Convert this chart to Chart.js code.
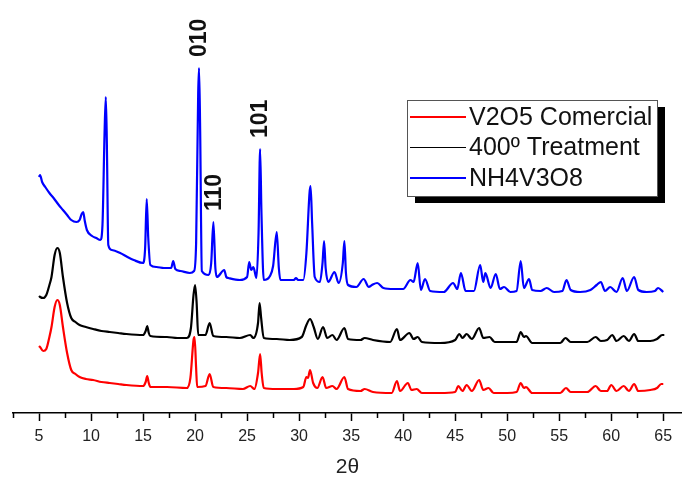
<!DOCTYPE html>
<html>
<head>
<meta charset="utf-8">
<script src="https://cdn.jsdelivr.net/npm/chart.js@4.4.1/dist/chart.umd.min.js"></script>
<style>
  html, body { margin: 0; padding: 0; background: #fff; }
  #xrd { display: block; }
</style>
</head>
<body>
<canvas id="xrd" width="682" height="482"></canvas>
<script>
// XRD patterns, [2θ (deg), intensity (a.u., offset per sample)]
const v2o5Comercial = [
  [5.0, 67], [5.1, 66], [5.4, 62], [5.7, 64], [6.0, 76], [6.2, 86], [6.5, 106], [6.76, 113],
  [7.0, 108], [7.3, 86], [7.7, 60], [8.1, 43], [8.5, 39], [8.9, 36], [9.5, 34], [10.2, 33],
  [11.0, 31], [11.8, 30], [12.6, 29], [13.4, 28], [15.0, 27], [15.25, 31], [15.4, 37], [15.55, 30],
  [15.7, 26], [17.3, 26], [19.2, 25], [19.55, 35], [19.85, 73], [19.95, 76], [20.1, 45], [20.2, 26],
  [21.0, 27], [21.4, 39], [21.75, 26], [23.0, 25], [24.6, 24], [25.3, 27], [25.7, 24], [26.05, 40],
  [26.25, 59], [26.4, 40], [26.6, 25], [27.85, 24], [29.5, 24], [30.4, 26], [30.7, 36], [30.85, 35],
  [31.05, 43], [31.35, 30], [31.75, 25], [32.25, 36], [32.6, 25], [33.2, 27], [33.6, 24], [34.35, 36],
  [34.7, 24], [35.9, 22], [36.3, 24], [37.1, 21], [38.9, 20], [39.4, 32], [39.7, 22], [40.45, 30],
  [40.8, 23], [41.3, 24], [41.8, 20], [43.55, 20], [45.0, 21], [45.3, 27], [45.7, 22], [46.1, 28],
  [46.6, 22], [47.3, 33], [47.7, 23], [48.2, 25], [48.7, 20], [50.0, 20], [50.9, 21], [51.3, 30],
  [51.6, 25], [51.8, 26], [52.4, 20], [55.1, 20], [55.65, 25], [56.1, 21], [57.7, 21], [58.5, 27],
  [59.0, 22], [59.6, 22], [60.0, 28], [60.5, 22], [61.2, 27], [61.7, 22], [62.2, 29], [62.6, 22],
  [63.75, 23], [64.4, 25], [64.8, 29], [65.0, 29]
];

const treatment400 = [
  [5.0, 117], [5.1, 116], [5.4, 115], [5.7, 118], [6.0, 128], [6.2, 136], [6.5, 158], [6.76, 165],
  [7.0, 160], [7.3, 136], [7.7, 110], [8.1, 95], [8.5, 91], [8.9, 88], [9.5, 86], [10.2, 84],
  [11.0, 82], [11.8, 81], [12.6, 80], [13.4, 79], [15.0, 78], [15.25, 82], [15.4, 87], [15.55, 80],
  [15.7, 77], [17.3, 76], [18.3, 75], [19.2, 75], [19.6, 85], [19.85, 118], [20.0, 128], [20.15, 110],
  [20.3, 78], [21.0, 78], [21.4, 90], [21.75, 77], [23.0, 76], [24.3, 75], [25.3, 78], [25.6, 75],
  [26.05, 90], [26.2, 110], [26.35, 95], [26.6, 75], [27.85, 74], [29.1, 73], [30.25, 76], [30.7, 88],
  [31.05, 94], [31.4, 86], [31.8, 74], [32.3, 86], [32.7, 75], [33.2, 78], [33.6, 73], [34.35, 85],
  [34.7, 74], [35.9, 73], [36.3, 75], [37.1, 73], [38.75, 71], [39.4, 84], [39.7, 73], [40.6, 80],
  [41.0, 74], [41.4, 76], [41.8, 71], [43.55, 70], [45.0, 73], [45.4, 79], [45.7, 75], [46.1, 79],
  [46.6, 74], [47.3, 85], [47.7, 75], [48.3, 76], [48.8, 71], [50.0, 71], [50.9, 71], [51.3, 81],
  [51.6, 76], [51.8, 77], [52.4, 70], [55.1, 70], [55.6, 75], [56.1, 71], [57.7, 71], [58.5, 76],
  [59.0, 72], [59.6, 73], [60.1, 78], [60.5, 72], [61.2, 77], [61.7, 72], [62.2, 79], [62.6, 72],
  [63.75, 72], [64.4, 74], [64.9, 78], [65.1, 78]
];

const nh4v3o8 = [
  [5.0, 236], [5.1, 238], [5.3, 231], [5.6, 226], [6.0, 220], [6.4, 215], [6.9, 208], [7.3, 203],
  [7.7, 198], [8.1, 193], [8.6, 191], [8.9, 193], [9.1, 199], [9.25, 201], [9.4, 192], [9.6, 183],
  [10.1, 177], [10.5, 175], [10.9, 173], [11.1, 188], [11.3, 280], [11.42, 316], [11.52, 270], [11.66, 168],
  [12.0, 163], [12.8, 160], [13.5, 156], [14.1, 153], [15.0, 150], [15.2, 165], [15.35, 214], [15.5, 175],
  [15.7, 148], [16.3, 146], [17.0, 145], [17.7, 145], [17.9, 152], [18.1, 144], [18.6, 142], [19.5, 140],
  [19.9, 142], [20.1, 170], [20.3, 320], [20.38, 345], [20.48, 290], [20.65, 142], [21.3, 138], [21.55, 150],
  [21.76, 191], [21.95, 145], [22.1, 136], [22.8, 143], [23.0, 136], [23.2, 135], [24.3, 133], [25.0, 136],
  [25.2, 151], [25.4, 143], [25.6, 146], [25.9, 135], [26.1, 180], [26.25, 264], [26.38, 200], [26.6, 133],
  [27.2, 137], [27.5, 147], [27.85, 181], [28.05, 145], [28.2, 133], [29.5, 133], [29.7, 135], [29.9, 133],
  [30.4, 133], [30.7, 160], [31.0, 220], [31.1, 227], [31.25, 190], [31.5, 136], [32.0, 131], [32.25, 150],
  [32.4, 172], [32.55, 145], [32.8, 131], [33.4, 141], [33.8, 130], [34.2, 150], [34.35, 172], [34.5, 140],
  [34.7, 128], [35.5, 126], [36.2, 134], [36.7, 126], [37.0, 128], [37.5, 130], [38.1, 125], [39.1, 124],
  [40.0, 124], [40.7, 133], [41.0, 131], [41.4, 150], [41.7, 123], [42.1, 134], [42.6, 122], [43.9, 121],
  [44.8, 130], [45.2, 124], [45.55, 140], [46.0, 122], [46.8, 122], [47.4, 148], [47.7, 131], [47.9, 140],
  [48.4, 125], [48.9, 139], [49.3, 124], [49.7, 126], [50.3, 121], [50.9, 122], [51.3, 152], [51.6, 125],
  [52.1, 134], [52.4, 123], [53.2, 122], [53.8, 125], [54.5, 121], [55.3, 122], [55.7, 133], [56.1, 123],
  [57.0, 121], [58.0, 123], [58.6, 128], [59.0, 131], [59.4, 122], [59.9, 126], [60.5, 121], [61.1, 135],
  [61.5, 122], [62.2, 136], [62.6, 123], [63.4, 121], [64.2, 122], [64.5, 125], [65.0, 121]
];

const seriesNames = ["V2O5 Comercial", "400º Treatment", "NH4V3O8"];
const seriesColors = ["#ff0000", "#000000", "#0000ff"];

const majorTicks = [5, 10, 15, 20, 25, 30, 35, 40, 45, 50, 55, 60, 65];
const minorTicks = [2.5, 7.5, 12.5, 17.5, 22.5, 27.5, 32.5, 37.5, 42.5, 47.5, 52.5, 57.5, 62.5];

// Miller indices of the main NH4V3O8 reflections
const peakIndices = ["010", "110", "101"];
const peakPositions = [20.38, 21.76, 26.25];

const FONT = "'Liberation Sans', Arial, sans-serif";

function toPoints(rows) {
  return rows.map((r) => ({ x: r[0], y: r[1] }));
}

// minor ticks, hkl labels and the boxed legend with its drop shadow
const decorations = {
  id: "decorations",
  afterDraw(chart) {
    const ctx = chart.ctx;
    const xs = chart.scales.x;
    const ys = chart.scales.y;
    const axisY = chart.chartArea.bottom;

    ctx.save();
    ctx.strokeStyle = "#000";
    ctx.lineWidth = 1.5;
    minorTicks.forEach((v) => {
      const px = Math.round(xs.getPixelForValue(v)) + 0.5;
      ctx.beginPath();
      ctx.moveTo(px, axisY);
      ctx.lineTo(px, axisY + 5);
      ctx.stroke();
    });
    ctx.restore();

    // hkl labels above their peaks
    const blue = chart.data.datasets[2].data;
    ctx.save();
    ctx.fillStyle = "#111";
    ctx.font = "bold 23px " + FONT;
    ctx.textAlign = "left";
    ctx.textBaseline = "middle";
    peakIndices.forEach((label, i) => {
      const pt = blue.find((p) => p.x === peakPositions[i]);
      const px = xs.getPixelForValue(pt.x);
      const py = ys.getPixelForValue(pt.y) - 11;
      ctx.save();
      ctx.translate(px + 1, py);
      ctx.rotate(-Math.PI / 2);
      ctx.fillText(label, 0, 0);
      ctx.restore();
    });
    ctx.restore();

    // legend
    const box = { left: 407, top: 100, width: 250, height: 96 };
    ctx.save();
    ctx.fillStyle = "#000";
    ctx.fillRect(box.left + 8, box.top + 7, box.width, box.height);
    ctx.fillStyle = "#fff";
    ctx.fillRect(box.left, box.top, box.width, box.height);
    ctx.strokeStyle = "#555";
    ctx.lineWidth = 1;
    ctx.strokeRect(box.left + 0.5, box.top + 0.5, box.width, box.height);
    ctx.font = "25px " + FONT;
    ctx.textBaseline = "middle";
    ctx.textAlign = "left";
    chart.data.datasets.forEach((ds, i) => {
      const rowY = box.top + 17 + i * 30.5;
      ctx.strokeStyle = ds.borderColor;
      ctx.lineWidth = i === 1 ? 1.2 : 2;
      ctx.beginPath();
      ctx.moveTo(box.left + 3, rowY);
      ctx.lineTo(box.left + 59, rowY);
      ctx.stroke();
      ctx.fillStyle = "#111";
      ctx.fillText(ds.label, box.left + 62, rowY + 1);
    });
    ctx.restore();
  },
};

const datasets = [v2o5Comercial, treatment400, nh4v3o8].map((rows, i) => ({
  label: seriesNames[i],
  data: toPoints(rows),
  borderColor: seriesColors[i],
  borderWidth: 2.2,
  pointRadius: 0,
  cubicInterpolationMode: "monotone",
  fill: false,
}));

new Chart(document.getElementById("xrd"), {
  type: "line",
  data: { datasets: datasets },
  options: {
    responsive: false,
    animation: false,
    layout: { padding: { left: 13, right: 0, top: 0, bottom: 0 } },
    plugins: { legend: { display: false }, tooltip: { enabled: false } },
    scales: {
      x: {
        type: "linear",
        min: 2.5,
        max: 66.8,
        afterBuildTicks: (scale) => {
          scale.ticks = majorTicks.map((v) => ({ value: v }));
        },
        afterFit: (scale) => {
          scale.height = 69;
        },
        border: { display: true, color: "#000", width: 1.5 },
        grid: { drawOnChartArea: false, drawTicks: true, tickLength: 8, tickColor: "#000", tickWidth: 1.5 },
        ticks: {
          autoSkip: false,
          maxRotation: 0,
          padding: 6,
          color: "#222",
          font: { family: FONT, size: 16 },
        },
        title: {
          display: true,
          text: "2θ",
          color: "#222",
          font: { family: FONT, size: 21 },
          padding: { top: 6, bottom: 2 },
        },
      },
      y: {
        display: false,
        min: 0,
        max: 413,
      },
    },
  },
  plugins: [decorations],
});
</script>
</body>
</html>
